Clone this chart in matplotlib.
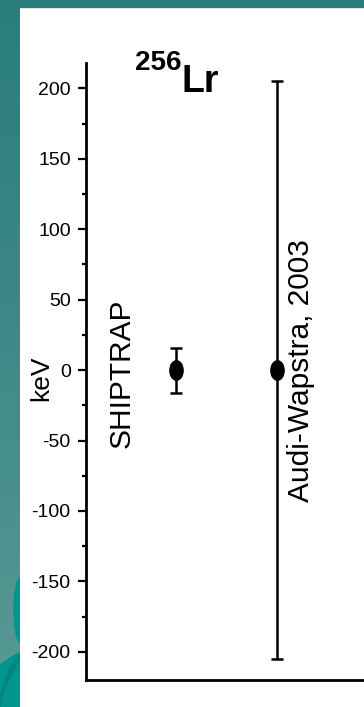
import numpy as np
import matplotlib
matplotlib.use('Agg')
import matplotlib.pyplot as plt
from matplotlib.colors import LinearSegmentedColormap
from matplotlib.markers import MarkerStyle
from matplotlib.patches import Rectangle, Polygon, Ellipse
from matplotlib.transforms import Affine2D

# data
labels = ['SHIPTRAP', 'Audi-Wapstra, 2003']
xpos = [1, 2]
values = [0, 0]
errors = [16, 205]
yticks = [-200, -150, -100, -50, 0, 50, 100, 150, 200]
yminor = [-175, -125, -75, -25, 25, 75, 125, 175]

W, H = 364, 707
fig = plt.figure(figsize=(W / 100, H / 100), dpi=100)
fig.patch.set_facecolor('white')

narrow = ['Liberation Sans Narrow', 'Liberation Sans', 'DejaVu Sans']
regular = ['Liberation Sans', 'DejaVu Sans']

# teal slide frame: left band with gradient, top band
bg = fig.add_axes([0, 0, 20 / W, 1])
cmap = LinearSegmentedColormap.from_list('teal', ['#2a7d7d', '#3f8a88', '#5a9a95'])
grad = np.linspace(0, 1, 256).reshape(-1, 1)
bg.imshow(grad, aspect='auto', cmap=cmap, extent=[0, 20, 707, 0])
bg.add_patch(Ellipse((21, 610), 14, 66, color='#00968f'))
bg.add_patch(Polygon([[0, 665], [10, 658], [20, 652], [20, 707], [0, 707]],
                     closed=True, color='#00968f'))
bg.add_patch(Polygon([[0, 695], [10, 668], [20, 654], [20, 658], [4, 690], [0, 707]],
                     closed=True, color='#00857f'))
bg.set_xlim(0, 20)
bg.set_ylim(707, 0)
bg.axis('off')
fig.add_artist(Rectangle((0, 1 - 7 / H), 1, 7 / H, transform=fig.transFigure,
                         color='#2a7d7d', zorder=5))

# main axes
ax = fig.add_axes([86 / W, 27 / H, (W - 86) / W, 617 / H])
ax.set_facecolor('white')
ax.errorbar(xpos, values, yerr=errors, fmt='none', ecolor='black',
            elinewidth=1.8, capsize=4, capthick=1.8)
mk = MarkerStyle('o', transform=Affine2D().scale(0.68, 1.0))
ax.plot(xpos, values, linestyle='none', marker=mk, markersize=14,
        color='black')

ax.set_xlim(0.11, 2.86)
ax.set_ylim(-220, 218)
ax.set_xticks([])
ax.set_yticks(yticks)
ax.set_yticks(yminor, minor=True)
ax.set_yticklabels([str(v) for v in yticks], family=narrow, fontsize=14)
ax.tick_params(axis='y', which='major', length=6, width=1.6, pad=5)
ax.tick_params(axis='y', which='minor', length=3, width=1.6)
for s in ['top', 'right']:
    ax.spines[s].set_visible(False)
for s in ['left', 'bottom']:
    ax.spines[s].set_linewidth(2)

ax.text(0.465, -2, labels[0], rotation=90, ha='center', va='center',
        fontsize=21.5, family=regular)
ax.text(2.24, 0, labels[1], rotation=90, ha='center', va='center',
        fontsize=21.5, family=regular)

fig.text(41 / W, 1 - 378 / H, 'keV', rotation=90, ha='center', va='center',
         fontsize=19, family=regular)

# title 256Lr
fig.text(135 / W, 1 - 70 / H, '256', ha='left', va='baseline',
         fontsize=20, fontweight='bold', family=narrow)
fig.text(181 / W, 1 - 92 / H, 'Lr', ha='left', va='baseline',
         fontsize=27, fontweight='bold', family=narrow)

plt.savefig('out.png', dpi=100)
plt.close()
